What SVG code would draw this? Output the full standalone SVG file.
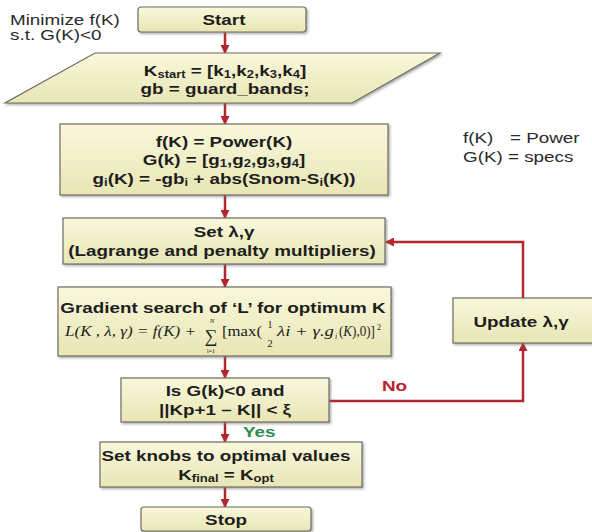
<svg xmlns="http://www.w3.org/2000/svg" width="592" height="532" viewBox="0 0 592 532">
  <defs>
    <linearGradient id="boxFill" x1="0" y1="0" x2="0" y2="1">
      <stop offset="0" stop-color="#f9f8dc"/>
      <stop offset="1" stop-color="#e8e6b4"/>
    </linearGradient>
    <filter id="shadow" x="-5%" y="-10%" width="115%" height="130%">
      <feDropShadow dx="1.5" dy="1.5" stdDeviation="1" flood-color="#777" flood-opacity="0.6"/>
    </filter>
    <marker id="arrow" markerUnits="userSpaceOnUse" markerWidth="9" markerHeight="9" refX="8" refY="4.5" orient="auto">
      <path d="M0,0 L9,4.5 L0,9 z" fill="#b3262b"/>
    </marker>
    <style>
      .box{fill:url(#boxFill);stroke:#6e6d60;stroke-width:1.2;filter:url(#shadow)}
      .b{font-family:"Liberation Sans",Arial,sans-serif;font-weight:bold;font-size:14.5px;fill:#1e1e1e}
      .r{font-family:"Liberation Sans",Arial,sans-serif;font-size:14.5px;fill:#2a2a2a}
      .sub{font-size:10px}
      .m{font-family:"Liberation Serif","Times New Roman",serif;font-size:14px;fill:#1e1e1e}
      .i{font-style:italic}
      .link{fill:none;stroke:#b3262b;stroke-width:2.5}
    </style>
  </defs>

  <rect width="592" height="532" fill="#ffffff"/>

  <!-- problem statement -->
  <g id="problem">
    <text class="r" transform="translate(10 25) scale(1.3 1)">Minimize f(K)</text>
    <text class="r" transform="translate(10 40) scale(1.3 1)">s.t. G(K)&lt;0</text>
  </g>

  <!-- legend -->
  <g id="legend">
    <text class="r" transform="translate(463 143) scale(1.3 1)">f(K)</text>
    <text class="r" transform="translate(510 143) scale(1.3 1)">= Power</text>
    <text class="r" transform="translate(463 162) scale(1.3 1)">G(K) = specs</text>
  </g>

  <!-- connectors -->
  <g id="connectors">
    <line class="link" x1="225" y1="32" x2="225" y2="53" marker-end="url(#arrow)"/>
    <line class="link" x1="225" y1="103" x2="225" y2="124" marker-end="url(#arrow)"/>
    <line class="link" x1="225" y1="195" x2="225" y2="218" marker-end="url(#arrow)"/>
    <line class="link" x1="225" y1="264" x2="225" y2="287" marker-end="url(#arrow)"/>
    <line class="link" x1="225" y1="356" x2="225" y2="378" marker-end="url(#arrow)"/>
    <line class="link" x1="225" y1="422" x2="225" y2="442" marker-end="url(#arrow)"/>
    <line class="link" x1="225" y1="487" x2="225" y2="507" marker-end="url(#arrow)"/>
    <polyline class="link" points="329,401 523,401 523,343" marker-end="url(#arrow)"/>
    <polyline class="link" points="523,298 523,242 386,242" marker-end="url(#arrow)"/>
    <text class="b" style="fill:#b8232a" transform="translate(382 391) scale(1.3 1)">No</text>
    <text class="b" style="fill:#2e8b50" transform="translate(243 437) scale(1.3 1)">Yes</text>
  </g>

  <!-- start -->
  <g id="start">
    <rect class="box" x="138" y="7" width="168" height="25" rx="3"/>
    <text class="b" text-anchor="middle" transform="translate(224 25) scale(1.3 1)">Start</text>
  </g>

  <!-- initial values -->
  <g id="init">
    <polygon class="box" points="95,53 440,53 352,103 5,103"/>
    <text class="b" text-anchor="middle" transform="translate(225 76) scale(1.3 1)">K<tspan class="sub" dy="2">start</tspan><tspan dy="-2"> = [k</tspan><tspan class="sub" dy="2">1</tspan><tspan dy="-2">,k</tspan><tspan class="sub" dy="2">2</tspan><tspan dy="-2">,k</tspan><tspan class="sub" dy="2">3</tspan><tspan dy="-2">,k</tspan><tspan class="sub" dy="2">4</tspan><tspan dy="-2">]</tspan></text>
    <text class="b" text-anchor="middle" transform="translate(225 94) scale(1.3 1)">gb = guard_bands;</text>
  </g>

  <!-- objective and constraints -->
  <g id="define">
    <rect class="box" x="60" y="124" width="328" height="71"/>
    <text class="b" text-anchor="middle" transform="translate(224 147) scale(1.3 1)">f(K) = Power(K)</text>
    <text class="b" text-anchor="middle" transform="translate(224 165) scale(1.3 1)">G(k) = [g<tspan class="sub" dy="2">1</tspan><tspan dy="-2">,g</tspan><tspan class="sub" dy="2">2</tspan><tspan dy="-2">,g</tspan><tspan class="sub" dy="2">3</tspan><tspan dy="-2">,g</tspan><tspan class="sub" dy="2">4</tspan><tspan dy="-2">]</tspan></text>
    <text class="b" text-anchor="middle" transform="translate(224 184) scale(1.3 1)">g<tspan class="sub" dy="2">i</tspan><tspan dy="-2">(K) = -gb</tspan><tspan class="sub" dy="2">i</tspan><tspan dy="-2"> + abs(Snom-S</tspan><tspan class="sub" dy="2">i</tspan><tspan dy="-2">(K))</tspan></text>
  </g>

  <!-- multipliers -->
  <g id="setMult">
    <rect class="box" x="63" y="218" width="322" height="46"/>
    <text class="b" text-anchor="middle" transform="translate(224 237) scale(1.3 1)">Set λ,γ</text>
    <text class="b" text-anchor="middle" transform="translate(222 256) scale(1.3 1)">(Lagrange and penalty multipliers)</text>
  </g>

  <!-- gradient search with the augmented Lagrangian -->
  <g id="search">
    <rect class="box" x="58" y="287" width="333" height="69"/>
    <text class="b" text-anchor="middle" transform="translate(223 313) scale(1.3 1)">Gradient search of ‘L’ for optimum K</text>
    <text class="m i" x="65" y="336" textLength="131" lengthAdjust="spacingAndGlyphs">L(K , λ, γ) = f(K) +</text>
    <text class="m" x="211" y="342" text-anchor="middle" style="font-size:18px">∑</text>
    <text class="m i" x="212" y="322.5" text-anchor="middle" style="font-size:7px">N</text>
    <text class="m" x="211" y="352.5" text-anchor="middle" style="font-size:6px">i=1</text>
    <text class="m" x="222" y="336" textLength="40" lengthAdjust="spacingAndGlyphs">[max(</text>
    <text class="m" x="270" y="328" text-anchor="middle" style="font-size:10px">1</text>
    <text class="m" x="270" y="347" text-anchor="middle" style="font-size:11px">2</text>
    <text class="m i" x="277" y="336" textLength="57" lengthAdjust="spacingAndGlyphs">λi + γ.g</text>
    <text class="m i" x="335" y="339" style="font-size:8px">i</text>
    <text class="m" x="339" y="336" textLength="36" lengthAdjust="spacingAndGlyphs">(<tspan class="i">K</tspan>),0)]</text>
    <text class="m" x="377" y="330" style="font-size:8px">2</text>
  </g>

  <!-- convergence test -->
  <g id="check">
    <rect class="box" x="121" y="378" width="208" height="44"/>
    <text class="b" text-anchor="middle" transform="translate(225 396) scale(1.3 1)">Is G(k)&lt;0 and</text>
    <text class="b" text-anchor="middle" transform="translate(225 415) scale(1.3 1)">||Kp+1 – K|| &lt; ξ</text>
  </g>

  <!-- update multipliers -->
  <g id="update">
    <rect class="box" x="453" y="298" width="150" height="45"/>
    <text class="b" text-anchor="middle" transform="translate(521 327) scale(1.3 1)">Update λ,γ</text>
  </g>

  <!-- final values -->
  <g id="final">
    <rect class="box" x="100" y="442" width="262" height="45"/>
    <text class="b" text-anchor="middle" transform="translate(226 461) scale(1.3 1)">Set knobs to optimal values</text>
    <text class="b" text-anchor="middle" transform="translate(226 480) scale(1.3 1)">K<tspan class="sub" dy="2">final</tspan><tspan dy="-2"> = K</tspan><tspan class="sub" dy="2">opt</tspan></text>
  </g>

  <!-- stop -->
  <g id="stop">
    <rect class="box" x="141" y="507" width="170" height="24" rx="3"/>
    <text class="b" text-anchor="middle" transform="translate(226 525) scale(1.3 1)">Stop</text>
  </g>
</svg>
